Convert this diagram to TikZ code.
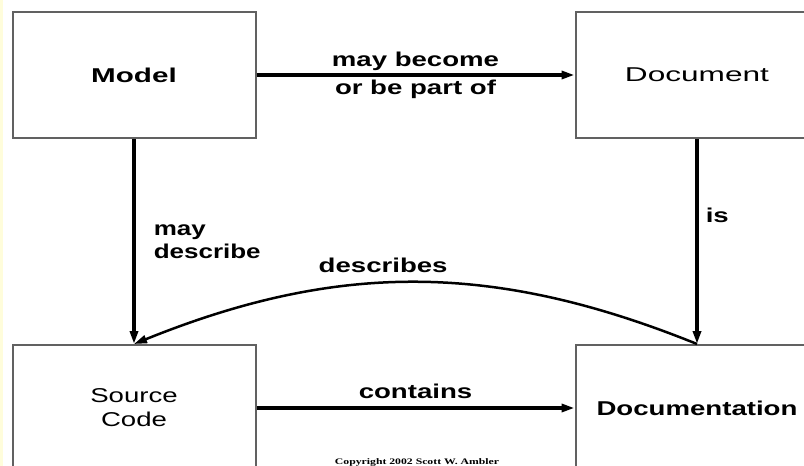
\documentclass[tikz,border=0pt]{standalone}
\usepackage{fontspec}
\setmainfont{Liberation Sans}
\newfontfamily\copyfont{Liberation Serif}
\usepackage{graphicx}
\usetikzlibrary{arrows.meta,positioning}
\newcommand{\wide}[1]{\scalebox{1.38}[1]{#1}}
\tikzset{
  box/.style={draw=black!62, line width=2pt, minimum width=243pt, minimum height=126pt, inner sep=0pt, font=\fontsize{20}{24}\selectfont},
  rel/.style={line width=3.5pt, -{Triangle[length=13pt,width=8pt]}},
  bent/.style={line width=2.5pt, -{Triangle[length=13pt,width=8pt]}},
  lbl/.style={font=\fontsize{20}{23}\selectfont\bfseries, inner sep=0pt, align=center}
}
\begin{document}
\begin{tikzpicture}[x=1pt,y=-1pt]
\useasboundingbox (0,0) rectangle (804,466);
\clip (0,0) rectangle (804,466);
\fill[yellow!14] (0,0) rectangle (3,466);
\node[box] (model) at (134,75) {\scalebox{1.48}[1]{\textbf{Model}}};
\node[box, right=318pt of model] (document) {\scalebox{1.58}[1]{Document}};
\node[box, below=205pt of model, align=center] (source) {\wide{Source}\\\wide{Code}};
\node[box, right=318pt of source] (documentation) {\wide{\textbf{Documentation}}};
\draw[rel] (model) -- node[lbl] {\wide{may become}\\[5pt]\wide{or be part of}} (document);
\draw[rel] (model) -- node[lbl, right=18pt, align=left] {\scalebox{1.3}[1]{may}\\\scalebox{1.3}[1]{describe}} (source);
\draw[rel] (document) -- node[lbl, right=7pt, pos=0.37] {\wide{is}} (documentation);
\draw[rel] (source) -- node[lbl, above=8pt] {\wide{contains}} (documentation);
\draw[bent] (documentation.north) to[bend right=22] node[lbl, pos=0.56, above=9pt] {\wide{describes}} (source.north);
\node[font=\copyfont\fontsize{8.5}{9}\selectfont\bfseries, inner sep=0pt] (copyright) at (417,462) {\wide{Copyright 2002 Scott W. Ambler}};
\end{tikzpicture}
\end{document}
